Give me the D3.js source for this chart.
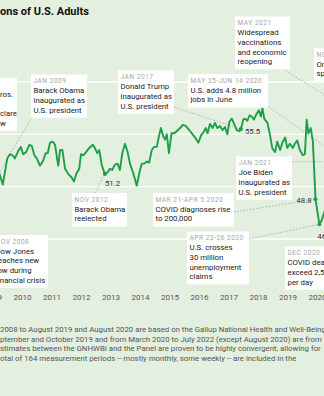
<!DOCTYPE html>
<html><head><meta charset="utf-8">
<script src="https://cdn.jsdelivr.net/npm/d3@7"></script>
<style>
html,body{margin:0;padding:0;background:#e3efdf;}
svg{display:block;font-family:Roboto,"Noto Sans",sans-serif;}
</style></head><body>
<svg id="c" width="324" height="396"></svg>
<script>
// ---------- data ----------
const titleText = "ons of U.S. Adults";
const yearTicks = [2009,2010,2011,2012,2013,2014,2015,2016,2017,2018,2019,2020];
const gridValues = [45,50,55,60];
const periods = [2009.00,2009.17,2009.35,2009.50,2009.59,2009.68,2009.76,2009.87,2009.96,2010.04,
 2010.14,2010.25,2010.33,2010.42,2010.50,2010.61,2010.72,2010.80,2010.87,2010.95,
 2011.04,2011.12,2011.23,2011.29,2011.37,2011.46,2011.57,2011.68,2011.76,2011.85,
 2011.94,2012.00,2012.08,2012.17,2012.28,2012.40,2012.47,2012.55,2012.62,2012.70,
 2012.81,2012.91,2012.98,2013.06,2013.15,2013.24,2013.32,2013.40,2013.49,2013.58,
 2013.66,2013.77,2013.89,2014.00,2014.06,2014.15,2014.23,2014.31,2014.40,2014.48,
 2014.57,2014.64,2014.71,2014.79,2014.85,2014.91,2014.98,2015.07,2015.16,2015.24,
 2015.36,2015.45,2015.55,2015.64,2015.73,2015.81,2015.89,2015.98,2016.07,2016.15,
 2016.23,2016.29,2016.37,2016.46,2016.54,2016.62,2016.71,2016.80,2016.88,2016.96,
 2017.03,2017.11,2017.19,2017.28,2017.37,2017.42,2017.50,2017.56,2017.64,2017.71,
 2017.79,2017.86,2017.96,2018.03,2018.10,2018.15,2018.21,2018.32,2018.41,2018.48,
 2018.58,2018.65,2018.75,2018.84,2018.92,2018.99,2019.08,2019.18,2019.25,2019.33,
 2019.42,2019.52,2019.59,2019.65,2019.71,2019.79,2019.86,2019.95,2020.08,2020.16,
 2020.24,2020.37];
const thriving = [50.2,51.8,50.2,52.7,53.1,53.0,52.7,53.4,53.8,53.1,
 53.3,54.0,53.9,53.0,52.7,52.0,52.5,53.2,53.2,54.2,
 54.3,54.0,52.0,53.5,53.5,51.7,51.2,50.9,50.5,51.3,
 51.7,53.1,53.0,53.3,53.7,54.0,53.7,53.2,53.5,52.1,
 51.2,51.4,51.7,51.6,52.1,52.2,51.6,53.2,54.1,53.3,
 52.2,51.3,50.1,51.6,52.2,52.2,52.4,52.3,53.5,53.8,
 53.8,54.8,55.6,54.8,54.5,55.0,53.2,55.1,55.1,55.3,
 55.6,55.9,55.8,55.5,55.2,54.9,54.6,54.2,54.9,55.2,
 55.6,55.1,56.0,55.6,56.1,55.6,55.8,55.4,55.7,55.0,
 56.2,56.5,56.0,55.4,55.3,55.5,56.4,56.5,56.3,56.8,
 56.7,56.4,57.0,57.3,56.7,57.5,56.5,56.1,54.9,53.7,
 53.3,54.3,53.5,54.3,54.7,53.7,54.1,53.7,54.1,54.4,
 53.5,53.0,53.1,56.4,55.1,55.6,54.3,48.8,46.4,46.8,
 47.5,48.4];
const markedPeriods = [2012.81,2017.42,2019.95,2020.08];
const markedValues  = [51.2,55.5,48.8,46.4];
const markedLabels  = ["51.2","55.5","48.8","46.4"];
const annotations = [
 {date:"JAN 2009", lines:["Barack Obama","inaugurated as","U.S. president"], t:2009.00, v:50.2},
 {date:"JAN 2017", lines:["Donald Trump","inaugurated as","U.S. president"], t:2017.42, v:55.5},
 {date:"MAY 25-JUN 14 2020", lines:["U.S. adds 4.8 million","jobs in June"], t:2020.75, v:52.9},
 {date:"MAY 2021", lines:["Widespread","vaccinations","and economic","reopening"], t:2021.33, v:56.9},
 {date:"NOV 2021", lines:["Omicron","spreads"], t:null, v:null},
 {date:"JAN 2021", lines:["Joe Biden","inaugurated as","U.S. president"], t:2021.2, v:52.4},
 {date:"NOV 2012", lines:["Barack Obama","reelected"], t:2012.81, v:51.2},
 {date:"MAR 21-APR 5 2020", lines:["COVID diagnoses rise","to 200,000"], t:2019.95, v:48.8},
 {date:"APR 23-26 2020", lines:["U.S. crosses","30 million","unemployment","claims"], t:2020.08, v:46.4},
 {date:"DEC 2020", lines:["COVID deaths","exceed 2,500","per day"], t:null, v:null},
 {date:"NOV 2008", lines:["Dow Jones","reaches new","low during","financial crisis"], t:null, v:null},
 {date:"", lines:["ros.","","clare","w"], t:null, v:null}
];
const footnote = [
 "2008 to August 2019 and August 2020 are based on the Gallup National Health and Well-Being",
 "ptember and October 2019 and from March 2020 to July 2022 (except August 2020) are from",
 "stimates between the GNHWBI and the Panel are proven to be highly convergent, allowing for",
 "otal of 164 measurement periods -- mostly monthly, some weekly -- are included in the"
];

// ---------- layout (kept apart from data) ----------
const boxLayout = [
 {x:31, y:74.5, w:56, lx:33, ly:115},
 {x:118, y:70.5, w:56, lx:174, ly:107},
 {x:188, y:74, w:80, lx:266, ly:105},
 {x:235, y:16.5, w:55, lx:285, ly:70.5},
 {x:314, y:48, w:40},
 {x:236, y:156.5, w:56, lx:292, ly:161.7},
 {x:72, y:193, w:55, lx:95, ly:193},
 {x:153, y:193, w:81, lx:234, ly:212},
 {x:187, y:231.5, w:62, lx:249, ly:239},
 {x:285, y:246.5, w:60},
 {x:-10, y:235, w:58, tx:-4.5},
 {x:-50, y:78, w:67, tx:0}
];

const W = 324, H = 396;
const svg = d3.select("#c");
const x = d3.scaleLinear().domain([2010, 2020]).range([22, 317]);
const y = d3.scaleLinear().domain([45, 60]).range([239, 82]);

svg.append("rect").attr("width", W).attr("height", H).attr("fill", "#e3efdf");

svg.append("text").attr("x", 0).attr("y", 15).attr("font-size", 11).attr("font-weight", 700)
  .attr("fill", "#111").text(titleText);

// gridlines
svg.append("g").selectAll("line").data(gridValues).join("line")
  .attr("x1", 0).attr("x2", W).attr("y1", d => y(d)).attr("y2", d => y(d))
  .attr("stroke", "#fff").attr("stroke-width", 1.3);

// leaders
const leaderData = annotations.map((a, i) => ({a, L: boxLayout[i]})).filter(d => d.a.t !== null && d.L.lx !== undefined);
svg.append("g").selectAll("line").data(leaderData).join("line")
  .attr("x1", d => d.L.lx).attr("y1", d => d.L.ly)
  .attr("x2", d => x(d.a.t)).attr("y2", d => y(d.a.v))
  .attr("stroke", "#a3a8a2").attr("stroke-width", 0.8).attr("stroke-dasharray", "1.6,1.6");

// line
const series = periods.map((p, i) => [p, thriving[i]]);
svg.append("path").datum(series)
  .attr("d", d3.line().x(d => x(d[0])).y(d => y(d[1])))
  .attr("fill", "none").attr("stroke", "#1d9e48").attr("stroke-width", 1.9)
  .attr("stroke-linejoin", "round");

// markers
svg.append("g").selectAll("circle").data(markedPeriods).join("circle")
  .attr("cx", d => x(d)).attr("cy", (d, i) => y(markedValues[i])).attr("r", 2)
  .attr("fill", "#1d9e48");

// value labels
const labelPos = [{dx:0, dy:12, a:"start"}, {dx:4, dy:5, a:"start"}, {dx:-4, dy:3.5, a:"end"}, {dx:-2, dy:15, a:"start"}];
svg.append("g").selectAll("text").data(markedLabels).join("text")
  .attr("x", (d, i) => x(markedPeriods[i]) + labelPos[i].dx)
  .attr("y", (d, i) => y(markedValues[i]) + labelPos[i].dy)
  .attr("text-anchor", (d, i) => labelPos[i].a)
  .attr("font-size", 7.8).attr("fill", "#333").text(d => d);

// annotation boxes
const boxes = svg.append("g").selectAll("g").data(annotations).join("g")
  .attr("transform", (d, i) => `translate(${boxLayout[i].x},${boxLayout[i].y})`);
boxes.append("rect")
  .attr("width", (d, i) => boxLayout[i].w)
  .attr("height", d => 19 + (d.lines.length - 1) * 9.6 + 5)
  .attr("fill", "#fff");
boxes.append("text")
  .attr("x", (d, i) => boxLayout[i].tx !== undefined ? boxLayout[i].tx - boxLayout[i].x : 2.5)
  .attr("y", 8.6).attr("font-size", 6.6).attr("letter-spacing", 0.5)
  .attr("fill", "#a6a6a6").text(d => d.date);
boxes.each(function(d, i) {
  const g = d3.select(this);
  const tx = boxLayout[i].tx !== undefined ? boxLayout[i].tx - boxLayout[i].x : 2.5;
  g.selectAll("text.l").data(d.lines).join("text").attr("class", "l")
    .attr("x", tx).attr("y", (t, j) => 18.8 + j * 9.6)
    .attr("font-size", 7.8).attr("fill", "#1a1a1a").text(t => t);
});

// x axis
const ax = svg.append("g").attr("transform", "translate(0,290)")
  .call(d3.axisBottom(x).tickValues(yearTicks).tickFormat(d3.format("d")).tickSize(0).tickPadding(4));
ax.select(".domain").remove();
ax.selectAll("text").attr("font-size", 8).attr("fill", "#555").attr("font-family", "Roboto,sans-serif");

// footnote
svg.append("g").selectAll("text").data(footnote).join("text")
  .attr("x", 0).attr("y", (d, i) => 332 + i * 9.5)
  .attr("font-size", 7.8).attr("fill", "#555").text(d => d);
</script>
</body></html>
